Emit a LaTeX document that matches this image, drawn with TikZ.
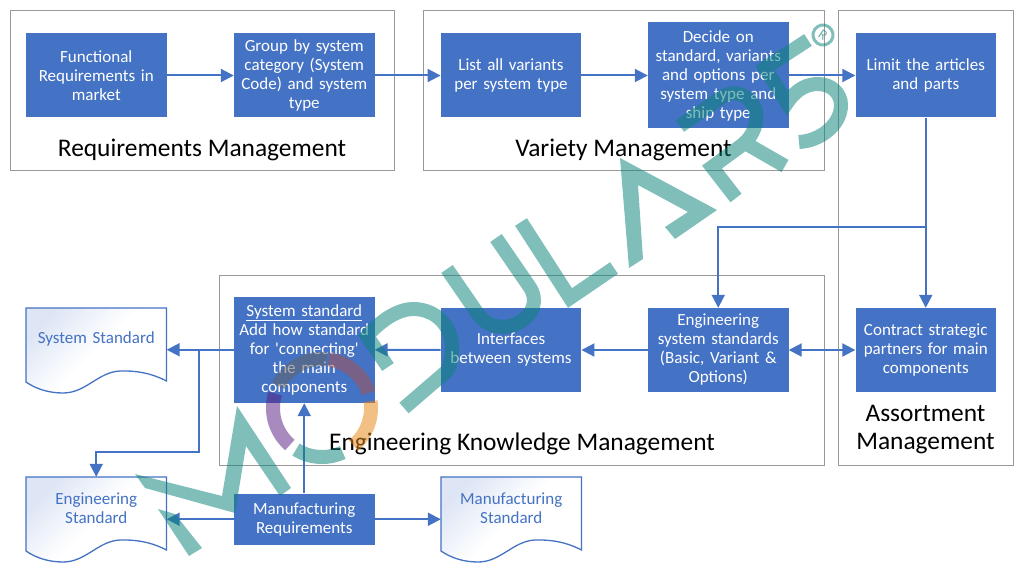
\documentclass[tikz,border=0pt]{standalone}
\usepackage{fontspec}
\setmainfont{Carlito}
\newfontfamily\bodyfont{Carlito}
\usetikzlibrary{arrows.meta}

\definecolor{boxblue}{RGB}{68,114,196}
\definecolor{docshade}{RGB}{222,230,245}
\definecolor{wmteal}{RGB}{11,130,121}
\definecolor{wmpurple}{RGB}{90,30,130}
\definecolor{wmgrey}{RGB}{100,100,100}
\definecolor{wmmaroon}{RGB}{170,80,80}
\definecolor{wmorange}{RGB}{230,135,20}

% document shape: name, left, top, text
\newcommand{\docshape}[4]{
\begin{scope}[shift={(#2,#3)}]
\path[docfill] (0,0) -- (140.5,0) -- (140.5,73) .. controls (125,65) and (110,62.5) .. (94,63)
    .. controls (72,64) and (60,85) .. (37,85) .. controls (23,85) and (10,81) .. (0,74) -- cycle;
\node[doctext] (#1) at (70.25,31) {#4};
\end{scope}
}

\begin{document}
\begin{tikzpicture}[x=1pt,y=-1pt,
    block/.style={rectangle,fill=boxblue,text=white,inner sep=0pt,minimum width=140.5pt,minimum height=84pt,
        text width=138pt,align=center,font=\bodyfont\fontsize{17}{19}\selectfont},
    groupframe/.style={draw=black!40,line width=0.9pt},
    grouptitle/.style={inner sep=0pt,align=center,font=\fontsize{25.4}{28}\selectfont},
    docfill/.style={draw=boxblue,line width=1.3pt,left color=docshade,right color=white,middle color=white,shading angle=45},
    doctext/.style={rectangle,inner sep=0pt,minimum width=140.5pt,minimum height=62pt,text=boxblue,
        text width=136pt,align=center,font=\fontsize{17}{19}\selectfont},
    link/.style={draw=boxblue,line width=2pt,>={Triangle[length=13pt,width=13pt]}},
    watermark/.style={draw=wmteal,draw opacity=0.52,line width=14pt,miter limit=12},
    wmfill/.style={fill=wmteal,fill opacity=0.52},
    ring/.style={line width=14pt,draw opacity=0.52,smooth,samples=30},
]
\useasboundingbox (0,0) rectangle (1024,572);

% group frames
\draw[groupframe] (10.5,10.5) rectangle (394,170.5);
\draw[groupframe] (423,10.5) rectangle (824.5,170.5);
\draw[groupframe] (838,10.5) rectangle (1013,465);
\draw[groupframe] (219.5,275.5) rectangle (824.5,465);

% blocks
\node[block] (func) at (96.25,75.5) {Functional\\Requirements in\\market};
\node[block] (group) at (304.25,75.5) {Group by system\\category (System\\Code) and system\\type};
\node[block] (list) at (511,75.5) {List all variants\\per system type};
\node[block,minimum height=106pt] (decide) at (718.25,75.5) {Decide on\\standard, variants\\and options per\\system type and\\ship type};
\node[block] (limit) at (925.75,75.5) {Limit the articles\\and parts};
\node[block] (contract) at (925.75,350) {Contract strategic\\partners for main\\components};
\node[block] (engsys) at (718.25,350) {Engineering\\system standards\\(Basic, Variant \&\\Options)};
\node[block] (interf) at (511,350) {Interfaces\\between systems};
\node[block,minimum height=106.5pt] (sysstd) at (304.25,349.75) {\underline{System standard}\\Add how standard\\for 'connecting'\\the main\\components};
\node[block,minimum height=51.5pt] (manuf) at (304.25,519.25) {Manufacturing\\Requirements};

% documents
\docshape{sysdoc}{26}{308}{System Standard}
\docshape{engdoc}{26}{477}{Engineering\\Standard}
\docshape{manufdoc}{441}{477}{Manufacturing\\Standard}

% titles
\node[grouptitle] (reqtitle) at (202,149.5) {Requirements Management};
\node[grouptitle] (vartitle) at (623.5,149.5) {Variety Management};
\node[grouptitle] (asstitle) at (925.5,430) {Assortment\\Management};
\node[grouptitle] (engtitle) at (522,443.5) {Engineering Knowledge Management};

% connectors
\coordinate (split) at (925.75,226.5);
\coordinate (drop) at (198.5,350);
\coordinate (dropend) at (198.5,452);
\coordinate (dropleft) at (96.25,452);
\draw[link,->] (func) -- (group);
\draw[link,->] (group) -- (list);
\draw[link,->] (list) -- (decide);
\draw[link,->] (decide) -- (limit);
\draw[link,->] (limit) -- (contract);
\draw[link,->] (split) -- (split -| engsys) -- (engsys);
\draw[link,<->] (engsys) -- (contract);
\draw[link,->] (engsys) -- (interf);
\draw[link,->] (interf) -- (sysstd);
\draw[link,->] (sysstd.west) -- (sysstd.west -| sysdoc.east);
\draw[link,->] (drop) -- (dropend) -- (dropleft) -- (dropleft |- engdoc.north);
\draw[link,->] (manuf) -- (sysstd);
\draw[link,->] (manuf.west) -- (manuf.west -| engdoc.east);
\draw[link,->] (manuf.east) -- (manuf.east -| manufdoc.west);

% logo over everything
% M
\path[wmfill] (158,509) -- (175,514) -- (202,548) -- (189,556) -- cycle;
\path[wmfill] (135,474) -- (222,496) -- (237,406) -- (291,488) -- (280,496) -- (246,446) -- (235,513) -- (145,488) -- cycle;
% O
\draw[ring,draw=wmpurple] plot[domain=131:197] ({322+49*cos(\x)},{408+49*sin(\x)});
\draw[ring,draw=wmteal] plot[domain=65:122] ({322+49*cos(\x)},{408+49*sin(\x)});
\draw[ring,draw=wmorange] plot[domain=-8:50] ({322+49*cos(\x)},{408+49*sin(\x)});
\draw[ring,draw=wmgrey] plot[domain=207:276] ({322+49*cos(\x)},{408+49*sin(\x)});
\draw[ring,draw=wmmaroon] plot[domain=278:342] ({322+49*cos(\x)},{408+49*sin(\x)});
% D
\draw[watermark] (388,367) -- (367,336) .. controls (383,318) and (400,309) .. (413,309)
    .. controls (436,309) and (452,326) .. (452,348) .. controls (452,358) and (450,366) .. (447,371) -- (404,408);
% U
\draw[watermark] (447,269) -- (478,314) .. controls (499,344) and (550,316) .. (529,286) -- (496,238);
% L
\draw[watermark] (521,222) -- (570,298) -- (614,268);
% A
\path[wmfill] (620,158) -- (717,210) -- (675,239) -- (665,227) -- (688,212) -- (638,185) -- (643,259) -- (629,268) -- cycle;
% R
\draw[watermark] (680,126) -- (722,97) .. controls (735,88) and (752,96) .. (756,112)
    .. controls (758,128) and (750,140) .. (738,148) -- (712,167) -- (736,198)
    (745,143) -- (785,166);
% 5
\draw[watermark] (808,40) -- (765,68) -- (787,103) .. controls (797,88) and (808,84) .. (818,84)
    .. controls (832,84) and (841,94) .. (841,105) .. controls (841,125) and (820,141) .. (799,142);
\node[circle,draw=wmteal,draw opacity=0.52,line width=3pt,minimum size=20pt,inner sep=0pt,text=wmteal,text opacity=0.6,
    rotate=-35,font=\fontsize{14}{14}\selectfont] (regmark) at (823,35) {R};
\end{tikzpicture}
\end{document}
